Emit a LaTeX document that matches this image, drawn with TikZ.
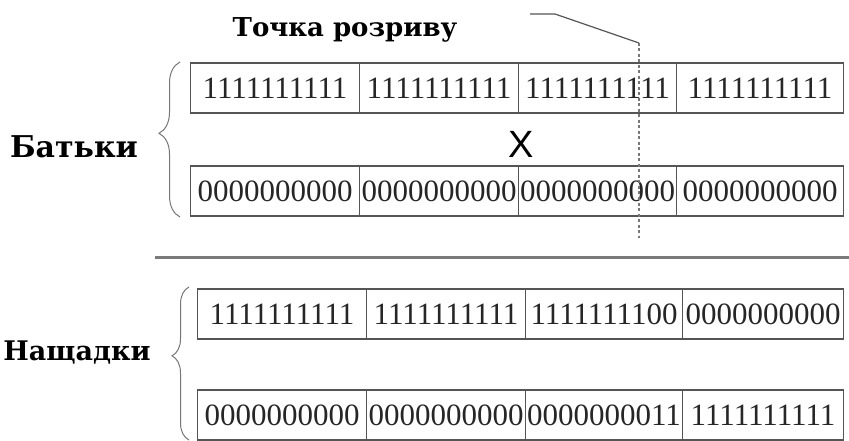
\documentclass[tikz,border=0pt]{standalone}
\usepackage{fontspec}
\setmainfont{Liberation Serif}
\newfontfamily\labelfont{DejaVu Serif}
\newfontfamily\crossfont{Liberation Sans}
\usetikzlibrary{decorations.pathreplacing}
\definecolor{edge}{HTML}{555555}
\definecolor{sep}{HTML}{7A7A7A}
\tikzset{
  cell/.style={draw=edge, line width=1.1pt, anchor=west, inner sep=0pt,
    minimum height=50pt, font=\fontsize{31}{31}\selectfont, text=black!85},
  lbl/.style={font=\labelfont\bfseries, inner sep=0pt},
  bracestyle/.style={draw=edge!80, line width=1pt, decorate},
}
\begin{document}
\begin{tikzpicture}[x=1pt, y=-1pt]
\useasboundingbox (0,0) rectangle (849,441);
\fill[white] (0,0) rectangle (849,441);

% parents, first chromosome
\node[cell, minimum width=169pt] (p1a) at (190,88) {1111111111};
\node[cell, minimum width=159pt] (p1b) at (359,88) {1111111111};
\node[cell, minimum width=158pt] (p1c) at (518,88) {1111111111};
\node[cell, minimum width=167pt] (p1d) at (676,88) {1111111111};
% parents, second chromosome
\node[cell, minimum width=169pt] (p2a) at (190,191) {0000000000};
\node[cell, minimum width=159pt] (p2b) at (359,191) {0000000000};
\node[cell, minimum width=158pt] (p2c) at (518,191) {0000000000};
\node[cell, minimum width=167pt] (p2d) at (676,191) {0000000000};
% offspring
\node[cell, minimum width=169pt] (c1a) at (197,314) {1111111111};
\node[cell, minimum width=159pt] (c1b) at (366,314) {1111111111};
\node[cell, minimum width=157pt] (c1c) at (525,314) {1111111100};
\node[cell, minimum width=161pt] (c1d) at (682,314) {0000000000};
\node[cell, minimum width=169pt] (c2a) at (197,415) {0000000000};
\node[cell, minimum width=159pt] (c2b) at (366,415) {0000000000};
\node[cell, minimum width=157pt] (c2c) at (525,415) {0000000011};
\node[cell, minimum width=161pt] (c2d) at (682,415) {1111111111};

% crossover sign
\node[font=\crossfont\fontsize{38}{38}\selectfont, inner sep=0pt] (cross) at (521,144) {X};

% labels
\node[lbl, font=\labelfont\bfseries\fontsize{26}{26}\selectfont] (title) at (345,30) {Точка розриву};
\node[lbl, font=\labelfont\bfseries\fontsize{30}{30}\selectfont] (parents) at (74,147) {Батьки};
\node[lbl, font=\labelfont\bfseries\fontsize{27}{27}\selectfont] (children) at (77,353) {Нащадки};

% braces
\draw[bracestyle, decoration={brace, amplitude=21pt, aspect=0.54}] (180,217) -- (180,62);
\draw[bracestyle, decoration={brace, amplitude=17pt, aspect=0.55}] (189,440) -- (189,287);

% separator between parents and offspring
\draw[sep, line width=3pt] (155,257) -- (849,257);

% cut point marker
\coordinate (lead0) at (530,14);
\coordinate (lead1) at (555,14);
\coordinate (cuttop) at (639,43);
\coordinate (cutbot) at (639,238);
\draw[edge, line width=1.2pt] (lead0) -- (lead1) -- (cuttop);
\draw[edge!80, line width=1.3pt, dash pattern=on 3pt off 2.5pt] (cuttop) -- (cutbot);
\end{tikzpicture}
\end{document}
